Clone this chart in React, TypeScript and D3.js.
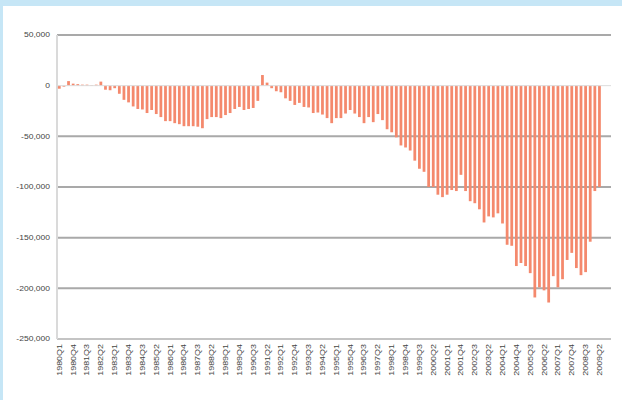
// Quarterly balance bars, 1980Q1 to 2009Q4, drawn with d3 scales.
import * as d3 from "d3";

// one label per quarter; the last two quarters carry no value
const years = d3.range(1980, 2010);
const quarters = years.flatMap((y) => [1, 2, 3, 4].map((q) => `${y}Q${q}`));

// values in thousands
const values1980s = [
  -3, -1, 4.5, 2, 1.5, 1, 1, 0.5, 1, 4,
  -4, -4.5, -2.5, -8, -14, -16.5, -20.5, -23, -23.5, -27,
  -24, -28, -31, -35, -35, -37, -38, -40, -40, -40,
  -40.5, -42, -33, -31, -31, -32, -29, -27, -23, -21,
];
const values1990s = [
  -24, -23, -22, -15, 10.5, 3, -2.5, -5.5, -6.5, -12.5,
  -15, -19, -17, -21, -21.5, -27, -26.5, -28.5, -32, -37,
  -32, -32, -27.5, -24, -27.5, -31, -37, -31, -36, -28,
  -34, -43, -46, -51, -59, -61, -64, -74, -82, -85,
];
const values2000s = [
  -100, -100, -107.6, -110, -107.6, -103, -104, -88, -104, -114,
  -116, -122, -135, -129, -130, -126, -136, -157, -158, -178,
  -175, -178, -185, -209, -199, -202, -214, -188, -199, -191,
  -172, -165, -180, -187, -184, -154, -104, -100,
];

const yTicks = [50000, 0, -50000, -100000, -150000, -200000, -250000];

const data = [...values1980s, ...values1990s, ...values2000s].map((v, i) => ({
  q: quarters[i],
  value: v * 1000,
}));

const fmt = d3
  .formatLocale({ decimal: ".", thousands: ",", grouping: [3], currency: ["", ""], minus: "-" })
  .format(",");

const W = 622;
const H = 400;
const left = 57;
const right = 611;
const top = 35;
const bottom = 339;

export default function App() {
  const x = d3.scaleBand().domain(quarters).range([left, right]).paddingInner(0.4).paddingOuter(0.2);
  const y = d3.scaleLinear().domain([-250000, 50000]).range([bottom, top]);
  const labelQuarters = quarters.filter((_, i) => i % 3 === 0);

  return (
    <svg
      width={W}
      height={H}
      style={{ position: "absolute", left: 0, top: 0, display: "block", fontFamily: "Liberation Sans, Arial, sans-serif" }}
    >
      <rect width={W} height={H} fill="#fff" />
      {/* light blue frame edges */}
      <rect x={0} y={0} width={W} height={6} fill="#c6e6f6" />
      <rect x={0} y={0} width={3} height={H} fill="#c6e6f6" />

      {/* gridlines */}
      {yTicks.filter((t) => t !== 0 && t !== -250000).map((t) => (
        <line key={t} x1={left} x2={right} y1={y(t)} y2={y(t)} stroke="#a9a9a9" strokeWidth={2} />
      ))}
      <line x1={left} x2={right} y1={y(-250000)} y2={y(-250000)} stroke="#c4c4c4" strokeWidth={2} />
      <line x1={left} x2={left} y1={top} y2={bottom} stroke="#dadada" strokeWidth={2} />

      {/* bars */}
      {data.map((d) => (
        <rect
          key={d.q}
          x={x(d.q)}
          y={y(Math.max(0, d.value))}
          width={x.bandwidth()}
          height={Math.abs(y(d.value) - y(0))}
          fill="#f4896d"
        />
      ))}
      <line x1={left} x2={right} y1={y(0)} y2={y(0)} stroke="#dcdcdc" strokeWidth={1} />

      {/* y tick labels, stretched a little like the source */}
      {yTicks.map((t) => (
        <text
          key={t}
          transform={`translate(50,${y(t)}) scale(1.22,1)`}
          dy="0.35em"
          textAnchor="end"
          fontSize={7}
          fill="#444"
        >
          {fmt(t)}
        </text>
      ))}

      {/* x tick labels, every third quarter */}
      {labelQuarters.map((q) => {
        const cx = (x(q) ?? 0) + x.bandwidth() / 2;
        return (
          <text
            key={q}
            transform={`translate(${cx},${bottom + 5}) rotate(-90) scale(1.28,1)`}
            textAnchor="end"
            dy="0.35em"
            fontSize={7}
            fill="#444"
          >
            {q}
          </text>
        );
      })}
    </svg>
  );
}
